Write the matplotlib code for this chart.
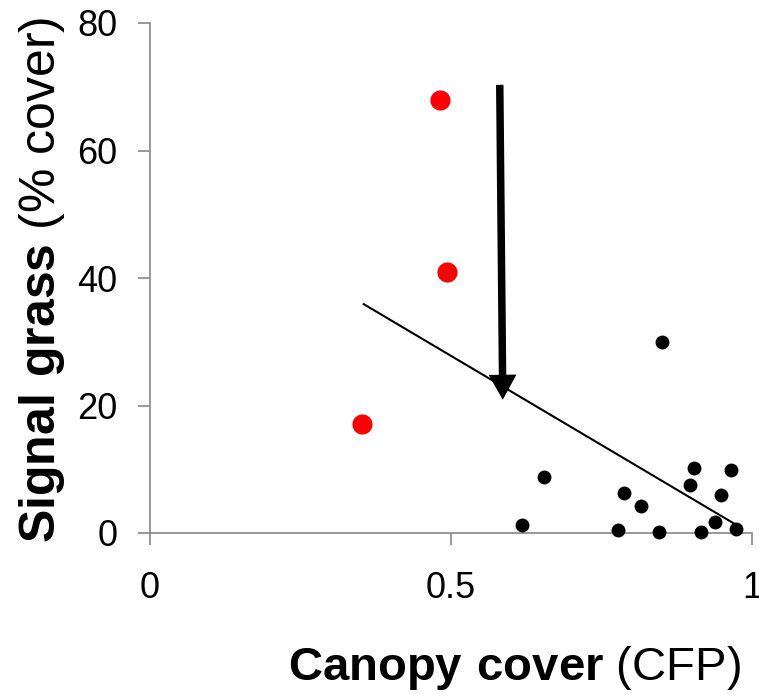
import matplotlib
matplotlib.use("Agg")
import matplotlib.pyplot as plt

plt.rcParams['font.family'] = ['Liberation Sans', 'DejaVu Sans']
plt.rcParams['mathtext.fontset'] = 'custom'
plt.rcParams['mathtext.rm'] = 'Liberation Sans'
plt.rcParams['mathtext.bf'] = 'Liberation Sans:bold'

# Sites with high signal grass cover (red)
red_x = [0.482, 0.493, 0.352]
red_y = [67.9, 40.9, 17.1]

# Remaining sites (black)
black_x = [0.495, 0.850, 0.654, 0.618, 0.787, 0.816, 0.778, 0.845,
           0.903, 0.897, 0.965, 0.949, 0.939, 0.915, 0.974]
black_y = [40.6, 30.0, 8.8, 1.25, 6.2, 4.2, 0.5, 0.1,
           10.2, 7.5, 9.9, 6.0, 1.7, 0.1, 0.6]

# Linear trend line end points
trend_x = [0.355, 0.977]
trend_y = [35.9, 1.1]

# Arrow (tail, tip)
arrow_tail = (0.581, 70.3)
arrow_tip = (0.586, 20.9)

x_ticks = [0, 0.5, 1]
x_tick_labels = ['0', '0.5', '1']
y_ticks = [0, 20, 40, 60, 80]

fig = plt.figure(figsize=(7.59, 6.94), dpi=100)
ax = fig.add_axes([150 / 759, 161 / 694, 602 / 759, 510 / 694])

ax.plot(trend_x, trend_y, color='black', lw=1.5, zorder=2)
ax.scatter(black_x, black_y, s=100, color='black', zorder=3, clip_on=False, linewidths=0)
ax.scatter(red_x, red_y, s=210, color='red', zorder=4, clip_on=False, linewidths=0)

ax.annotate('', xy=arrow_tip, xytext=arrow_tail,
            arrowprops=dict(arrowstyle='simple,head_length=0.9,head_width=1.0,tail_width=0.27',
                            lw=0, color='black', mutation_scale=20,
                            shrinkA=0, shrinkB=0), zorder=5)

ax.set_xlim(0, 1)
ax.set_ylim(0, 80)
ax.set_xticks(x_ticks)
ax.set_xticklabels(x_tick_labels)
ax.set_yticks(y_ticks)

for side in ['top', 'right']:
    ax.spines[side].set_visible(False)
for side in ['left', 'bottom']:
    ax.spines[side].set_color('#888888')
    ax.spines[side].set_linewidth(1.2)

ax.tick_params(axis='both', colors='#888888', labelcolor='black', length=8.5,
               width=1.2, labelsize=26)
ax.tick_params(axis='x', pad=19)
ax.tick_params(axis='y', pad=15)

fig.text(514 / 759, 1 - 668 / 694, r'$\bf{Canopy\ cover}$ (CFP)',
         ha='center', va='center', fontsize=34)
fig.text(42 / 759, 1 - 280 / 694, r'$\bf{Signal\ grass}$ (% cover)',
         ha='center', va='center', fontsize=36, rotation=90)

fig.savefig('out.png', dpi=100)
